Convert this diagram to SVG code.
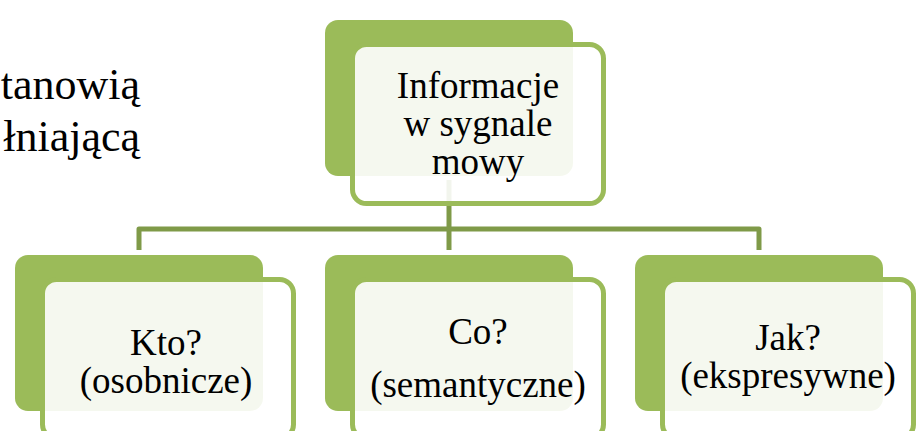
<svg xmlns="http://www.w3.org/2000/svg" width="916" height="431" viewBox="0 0 916 431">
  <style>
    .back { fill: #9bbb59; }
    .front { fill: #ffffff; fill-opacity: 0.9; stroke: #9bbb59; stroke-width: 5; }
    .lbl { font-size: 37px; fill: #000000; text-anchor: middle; }
    .side { font-size: 44px; fill: #000000; text-anchor: end; }
    .conn { fill: none; stroke: #7f9a48; stroke-width: 5; stroke-linejoin: round; }
  </style>
  <rect width="916" height="431" fill="#ffffff"/>

  <!-- slide text running behind the chart -->
  <g id="slide-text" font-family="'Liberation Serif', 'DejaVu Serif', serif">
    <text class="side" x="140" y="99">tanowią</text>
    <text class="side" x="140" y="151">łniającą</text>
  </g>

  <!-- hierarchy connectors -->
  <g id="connectors">
    <path class="conn" d="M449 180 V229"/>
    <path class="conn" d="M139 250 V229 H759 V250"/>
    <path class="conn" d="M449 229 V250"/>
  </g>

  <!-- root -->
  <g id="node-root" font-family="'Liberation Serif', 'DejaVu Serif', serif">
    <rect class="back" x="325" y="20" width="248" height="156" rx="13"/>
    <rect class="front" x="352.5" y="44.5" width="251" height="159" rx="14"/>
    <text class="lbl" x="478" y="98">Informacje</text>
    <text class="lbl" x="478" y="136">w sygnale</text>
    <text class="lbl" x="478" y="174">mowy</text>
  </g>

  <!-- children -->
  <g id="node-kto" font-family="'Liberation Serif', 'DejaVu Serif', serif">
    <rect class="back" x="15" y="255" width="248" height="156" rx="13"/>
    <rect class="front" x="42.5" y="279.5" width="251" height="159" rx="14"/>
    <text class="lbl" x="166" y="355">Kto?</text>
    <text class="lbl" x="166" y="393">(osobnicze)</text>
  </g>

  <g id="node-co" font-family="'Liberation Serif', 'DejaVu Serif', serif">
    <rect class="back" x="325" y="255" width="248" height="156" rx="13"/>
    <rect class="front" x="352.5" y="279.5" width="251" height="159" rx="14"/>
    <text class="lbl" x="478" y="344">Co?</text>
    <text class="lbl" x="478" y="397">(semantyczne)</text>
  </g>

  <g id="node-jak" font-family="'Liberation Serif', 'DejaVu Serif', serif">
    <rect class="back" x="635" y="255" width="248" height="156" rx="13"/>
    <rect class="front" x="662.5" y="279.5" width="251" height="159" rx="14"/>
    <text class="lbl" x="788" y="350">Jak?</text>
    <text class="lbl" x="788" y="388">(ekspresywne)</text>
  </g>
</svg>
